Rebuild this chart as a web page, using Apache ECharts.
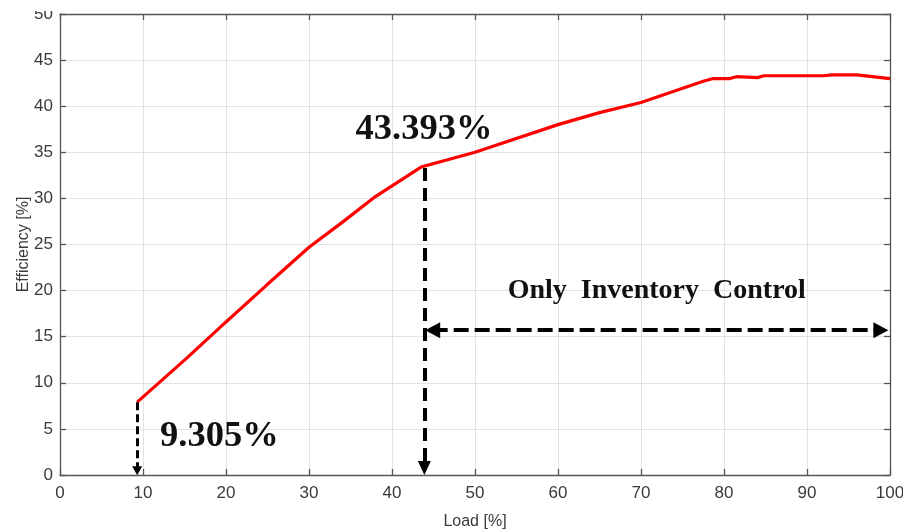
<!DOCTYPE html>
<html>
<head>
<meta charset="utf-8">
<script src="https://cdn.jsdelivr.net/npm/echarts@6/dist/echarts.min.js"></script>
<style>
  html, body { margin: 0; padding: 0; background: #fff; }
  #chart { width: 903px; height: 532px; }
</style>
</head>
<body>
<div id="chart"></div>
<script>
// Efficiency curve versus load
const loadPct = [9.3, 15.3, 20, 24.9, 30, 34, 38, 43.5, 50, 60, 65, 70, 77.5, 78.7, 80.7, 81.5, 84, 84.8, 88, 92, 93, 96, 100];
const efficiencyPct = [7.9, 12.7, 16.6, 20.6, 24.7, 27.4, 30.2, 33.4, 35.0, 38.0, 39.3, 40.4, 42.7, 43.0, 43.0, 43.2, 43.1, 43.3, 43.3, 43.3, 43.4, 43.4, 43.0];

// Annotation anchors (load %, efficiency %)
const lowPoint = [9.3, 7.9];
const kneePoint = [43.9, 33.3];
const rangeLevel = 15.7;
const rangeStart = 44.9;
const rangeEnd = 98.9;
const lowLabel = '9.305%';
const kneeLabel = '43.393%';
const rangeLabel = 'Only  Inventory  Control';

const xTicks = { min: 0, max: 100, interval: 10 };
const yTicks = { min: 0, max: 50, interval: 5 };

const axisColor = '#555555';
const gridColor = '#e2e2e2';
const tickFont = { fontFamily: 'Liberation Sans', fontSize: 17, color: '#3a3a3a' };

const chart = echarts.init(document.getElementById('chart'), null, { renderer: 'canvas' });

function boxAxis(extra) {
  return Object.assign({
    type: 'value',
    axisLine: { show: true, onZero: false, lineStyle: { color: axisColor, width: 1.3 } },
    axisTick: { show: true, inside: true, length: 6, lineStyle: { color: axisColor, width: 1.3 } },
    splitLine: { show: false },
    axisLabel: { show: false }
  }, extra);
}

const serif = 'Liberation Serif';

chart.setOption({
  animation: false,
  grid: { left: 60, right: 13, top: 14, bottom: 57, containLabel: false, outerBoundsMode: 'none' },
  xAxis: [
    boxAxis(Object.assign({}, xTicks, {
      position: 'bottom',
      name: 'Load [%]', nameLocation: 'middle', nameGap: 39, nameMoveOverlap: false,
      nameTextStyle: { fontFamily: 'Liberation Sans', fontSize: 16, color: '#3a3a3a' },
      axisLabel: Object.assign({ show: true, margin: 10 }, tickFont),
      splitLine: { show: true, lineStyle: { color: gridColor, width: 1 } }
    })),
    boxAxis(Object.assign({}, xTicks, { position: 'top' }))
  ],
  yAxis: [
    boxAxis(Object.assign({}, yTicks, {
      position: 'left',
      name: 'Efficiency [%]', nameLocation: 'middle', nameGap: 28, nameMoveOverlap: false,
      nameTextStyle: { fontFamily: 'Liberation Sans', fontSize: 16, color: '#3a3a3a' },
      axisLabel: Object.assign({ show: true, margin: 7 }, tickFont),
      splitLine: { show: true, lineStyle: { color: gridColor, width: 1 } }
    })),
    boxAxis(Object.assign({}, yTicks, { position: 'right' }))
  ],
  // The top strip is trimmed, so the uppermost tick label shows only its lower part
  graphic: [{
    type: 'rect', left: 0, top: 0, z: 100,
    shape: { width: 56, height: 11 },
    style: { fill: '#fff' }
  }],
  series: [{
    type: 'line',
    data: loadPct.map((x, i) => [x, efficiencyPct[i]]),
    showSymbol: false,
    symbol: 'none',
    lineStyle: { color: '#ff0000', width: 3.2 },
    z: 3,
    markLine: {
      silent: true,
      symbol: ['none', 'triangle'],
      label: { show: false },
      emphasis: { disabled: true },
      data: [
        [
          { coord: lowPoint, symbol: 'none' },
          { coord: [lowPoint[0], 0.45], symbol: 'triangle', symbolSize: [10, 9],
            lineStyle: { color: '#000', width: 3, type: [8, 4] } }
        ],
        [
          { coord: kneePoint, symbol: 'none' },
          { coord: [kneePoint[0], 0.75], symbol: 'triangle', symbolSize: [13, 14],
            lineStyle: { color: '#000', width: 4, type: [13, 7] } }
        ],
        [
          { coord: [rangeStart, rangeLevel], symbol: 'triangle', symbolSize: [16, 15] },
          { coord: [rangeEnd, rangeLevel], symbol: 'triangle', symbolSize: [16, 15],
            lineStyle: { color: '#000', width: 4, type: [15, 6] } }
        ]
      ]
    },
    markPoint: {
      silent: true,
      symbol: 'circle',
      symbolSize: 0,
      data: [
        { coord: [43.86, 37.5], value: kneeLabel },
        { coord: [19.2, 4.15], value: lowLabel },
        { coord: [71.9, 19.95], value: rangeLabel, labelSize: 28 }
      ].map(d => ({
        coord: d.coord,
        label: {
          show: true, position: 'inside', formatter: d.value,
          fontFamily: serif, fontWeight: 'bold',
          fontSize: d.labelSize || 36.5, color: '#111'
        }
      }))
    }
  }]
});
</script>
</body>
</html>
